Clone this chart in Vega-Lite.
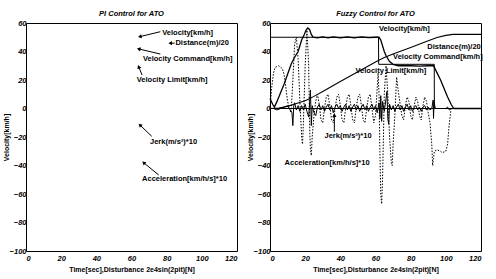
{
  "$schema": "https://vega.github.io/schema/vega-lite/v6.json",
  "padding": {"left": 1, "top": 9, "right": 2, "bottom": 1},
  "background": "white",
  "spacing": 7,
  "config": {
    "view": {"stroke": "black", "strokeWidth": 1},
    "font": "Liberation Sans",
    "axis": {
      "domain": false, "grid": false, "ticks": false,
      "labelFont": "Liberation Sans", "labelFontStyle": "italic", "labelFontWeight": "bold",
      "labelFontSize": 7.5, "labelColor": "black",
      "titleFont": "Liberation Sans", "titleFontWeight": "bold", "titleFontSize": 7, "titleColor": "black"
    },
    "title": {"font": "Liberation Sans", "fontStyle": "italic", "fontWeight": "bold", "fontSize": 7.5, "offset": 2, "color": "black"},
    "text": {"font": "Liberation Sans", "fontWeight": "bold", "fontSize": 7.5, "align": "left", "baseline": "middle", "color": "black"}
  },
  "datasets": {
    "arrowsL": [
      {"x": 76.4, "y": 53.9, "tx": 64.7, "ty": 50.4},
      {"x": 84.5, "y": 45.8, "tx": 82.0, "ty": 45.8},
      {"x": 76.4, "y": 38.2, "tx": 64.1, "ty": 41.8},
      {"x": 66.0, "y": 23.5, "tx": 64.1, "ty": 29.3},
      {"x": 71.5, "y": -19.5, "tx": 64.8, "ty": -11.6},
      {"x": 75.5, "y": -46.7, "tx": 66.9, "ty": -38.0}
    ],
    "labelsL": [
      {"x": 77.5, "y": 53.0, "label": "Velocity[km/h]"},
      {"x": 85.0, "y": 45.7, "label": "Distance(m)/20"},
      {"x": 66.5, "y": 34.5, "label": "Velocity Command[km/h]"},
      {"x": 63.0, "y": 20.0, "label": "Velocity Limit[km/h]"},
      {"x": 70.5, "y": -23.3, "label": "Jerk(m/s³)*10"},
      {"x": 66.0, "y": -49.7, "label": "Acceleration[km/h/s]*10"}
    ],
    "labelsR": [
      {"x": 62.0, "y": 55.5, "label": "Velocity[km/h]"},
      {"x": 89.5, "y": 43.2, "label": "Distance(m)/20"},
      {"x": 70.0, "y": 36.0, "label": "Velocity Command[km/h]"},
      {"x": 48.6, "y": 26.0, "label": "Velocity Limit[km/h]"},
      {"x": 31.0, "y": -19.3, "label": "Jerk(m/s³)*10"},
      {"x": 8.3, "y": -38.5, "label": "Acceleration[km/h/s]*10"}
    ],
    "arrowsR": [
      {"x": 36.6, "y": -16.3, "tx": 36.6, "ty": -4.6}
    ],
    "velocity": [
      {"t": 0, "v": 7}, {"t": 1.5, "v": 3}, {"t": 2.5, "v": 1}, {"t": 4, "v": 5}, {"t": 6, "v": 11},
      {"t": 8, "v": 17}, {"t": 10, "v": 24}, {"t": 12, "v": 31}, {"t": 14, "v": 36}, {"t": 16, "v": 40},
      {"t": 17, "v": 44}, {"t": 18, "v": 48}, {"t": 19.5, "v": 52}, {"t": 20.5, "v": 55}, {"t": 21.5, "v": 56.5},
      {"t": 22.5, "v": 55.5}, {"t": 23.5, "v": 52}, {"t": 24.5, "v": 50}, {"t": 27, "v": 49.5}, {"t": 30, "v": 50.2},
      {"t": 33, "v": 49.5}, {"t": 36, "v": 50.2}, {"t": 40, "v": 49.5}, {"t": 44, "v": 50.2}, {"t": 48, "v": 49.5},
      {"t": 52, "v": 50.2}, {"t": 56, "v": 49.7}, {"t": 60, "v": 50}, {"t": 62, "v": 50}, {"t": 63, "v": 48},
      {"t": 64, "v": 44}, {"t": 65, "v": 40}, {"t": 66, "v": 37}, {"t": 68, "v": 33}, {"t": 70, "v": 31},
      {"t": 73, "v": 30}, {"t": 80, "v": 30}, {"t": 85, "v": 29.8}, {"t": 90, "v": 30}, {"t": 93, "v": 30},
      {"t": 95, "v": 25}, {"t": 97, "v": 20}, {"t": 99, "v": 14}, {"t": 101, "v": 8}, {"t": 103, "v": 3},
      {"t": 104.5, "v": 0}, {"t": 120, "v": 0}
    ],
    "limit": [
      {"t": 0, "v": 50}, {"t": 61.7, "v": 50}, {"t": 61.8, "v": 31}, {"t": 93.4, "v": 31}, {"t": 93.5, "v": 0}
    ],
    "distance": [
      {"t": 0, "v": 0}, {"t": 5, "v": 0.3}, {"t": 10, "v": 1.5}, {"t": 15, "v": 3.5}, {"t": 20, "v": 5.5},
      {"t": 25, "v": 8.5}, {"t": 30, "v": 12}, {"t": 40, "v": 18.9}, {"t": 50, "v": 25.8}, {"t": 60, "v": 32.7},
      {"t": 65, "v": 35.8}, {"t": 70, "v": 38.3}, {"t": 80, "v": 42.8}, {"t": 90, "v": 47.5}, {"t": 95, "v": 49.8},
      {"t": 100, "v": 51.3}, {"t": 104, "v": 52}, {"t": 120, "v": 52}
    ],
    "accel": [
      {"t": 0, "v": 0}, {"t": 1, "v": 15}, {"t": 2, "v": 25}, {"t": 3, "v": 29}, {"t": 5, "v": 30},
      {"t": 7, "v": 28}, {"t": 8, "v": 24}, {"t": 9, "v": 15}, {"t": 10, "v": 5}, {"t": 11, "v": 0},
      {"t": 12, "v": -3}, {"t": 13, "v": 20}, {"t": 14, "v": 45}, {"t": 15, "v": 50}, {"t": 16, "v": 35},
      {"t": 17, "v": 5}, {"t": 18, "v": -20}, {"t": 18.5, "v": -25}, {"t": 19, "v": -10}, {"t": 20, "v": 30},
      {"t": 21, "v": 55}, {"t": 22, "v": 30}, {"t": 22.5, "v": -10}, {"t": 23, "v": -30}, {"t": 23.5, "v": -33},
      {"t": 24, "v": -20}, {"t": 25, "v": -5}, {"t": 26, "v": 5}, {"t": 27, "v": 10}, {"t": 28, "v": 3},
      {"t": 29, "v": -8}, {"t": 30, "v": -10}, {"t": 31, "v": 0}, {"t": 32, "v": 8}, {"t": 33, "v": 10},
      {"t": 34, "v": 2}, {"t": 35, "v": -8}, {"t": 36, "v": -10}, {"t": 37, "v": 0}, {"t": 38, "v": 8},
      {"t": 39, "v": 10}, {"t": 40, "v": 2}, {"t": 41, "v": -8}, {"t": 42, "v": -10}, {"t": 43, "v": 0},
      {"t": 44, "v": 8}, {"t": 45, "v": 10}, {"t": 46, "v": 2}, {"t": 47, "v": -8}, {"t": 48, "v": -10},
      {"t": 49, "v": 0}, {"t": 50, "v": 8}, {"t": 51, "v": 10}, {"t": 52, "v": 2}, {"t": 53, "v": -8},
      {"t": 54, "v": -10}, {"t": 55, "v": 0}, {"t": 56, "v": 8}, {"t": 57, "v": 10}, {"t": 58, "v": 0},
      {"t": 59, "v": -10}, {"t": 60, "v": -5}, {"t": 61, "v": 15}, {"t": 61.5, "v": 25}, {"t": 62, "v": 10},
      {"t": 62.5, "v": -30}, {"t": 63, "v": -60}, {"t": 63.5, "v": -67}, {"t": 64, "v": -50}, {"t": 64.5, "v": -20},
      {"t": 65, "v": 10}, {"t": 66, "v": 30}, {"t": 67, "v": 10}, {"t": 68, "v": -20}, {"t": 69, "v": -38},
      {"t": 69.5, "v": -40}, {"t": 70, "v": -25}, {"t": 71, "v": -5}, {"t": 72, "v": 22}, {"t": 73, "v": 12},
      {"t": 74, "v": 3}, {"t": 75, "v": -5}, {"t": 76, "v": -8}, {"t": 77, "v": 2}, {"t": 78, "v": 8},
      {"t": 79, "v": 5}, {"t": 80, "v": -5}, {"t": 81, "v": -8}, {"t": 82, "v": 2}, {"t": 83, "v": 8},
      {"t": 84, "v": 5}, {"t": 85, "v": -5}, {"t": 86, "v": -8}, {"t": 87, "v": 2}, {"t": 88, "v": 8},
      {"t": 89, "v": 5}, {"t": 90, "v": -3}, {"t": 91, "v": -10}, {"t": 92, "v": -25}, {"t": 92.5, "v": -40},
      {"t": 93, "v": -35}, {"t": 93.5, "v": -30}, {"t": 95, "v": -29}, {"t": 97, "v": -30}, {"t": 98, "v": -31},
      {"t": 100, "v": -30}, {"t": 101, "v": -25}, {"t": 102, "v": -10}, {"t": 103, "v": 0}, {"t": 120, "v": 0}
    ],
    "jerk": [
      {"t": 0, "v": 0}, {"t": 2, "v": 0}, {"t": 4, "v": -1}, {"t": 6, "v": 0}, {"t": 8, "v": 1},
      {"t": 10, "v": 2}, {"t": 11, "v": 0}, {"t": 12.5, "v": -3}, {"t": 13, "v": -12}, {"t": 13.5, "v": 2},
      {"t": 14, "v": 4}, {"t": 15, "v": -1}, {"t": 16, "v": 2}, {"t": 17, "v": -2}, {"t": 18, "v": 2},
      {"t": 19, "v": -1}, {"t": 20, "v": 3}, {"t": 21, "v": -2}, {"t": 22, "v": -6}, {"t": 23, "v": 13},
      {"t": 23.5, "v": -12}, {"t": 24, "v": 2}, {"t": 25, "v": -3}, {"t": 26, "v": -5}, {"t": 27, "v": 1},
      {"t": 28, "v": 3}, {"t": 29, "v": -1}, {"t": 30, "v": 2}, {"t": 31, "v": -2}, {"t": 32, "v": 1},
      {"t": 33, "v": 3}, {"t": 34, "v": -1}, {"t": 35, "v": 2}, {"t": 36, "v": -3}, {"t": 37, "v": 1},
      {"t": 38, "v": 3}, {"t": 39, "v": 0}, {"t": 40, "v": 2}, {"t": 41, "v": -2}, {"t": 42, "v": 1},
      {"t": 43, "v": 3}, {"t": 44, "v": -1}, {"t": 45, "v": 2}, {"t": 46, "v": -2}, {"t": 47, "v": 1},
      {"t": 48, "v": 3}, {"t": 49, "v": -1}, {"t": 50, "v": 2}, {"t": 51, "v": -2}, {"t": 52, "v": 1},
      {"t": 53, "v": 3}, {"t": 54, "v": -1}, {"t": 55, "v": 2}, {"t": 56, "v": -2}, {"t": 57, "v": 1},
      {"t": 58, "v": 3}, {"t": 59, "v": -1}, {"t": 60, "v": 2}, {"t": 61, "v": -3}, {"t": 62, "v": 4},
      {"t": 62.5, "v": -7}, {"t": 63, "v": 9}, {"t": 63.5, "v": -9}, {"t": 64, "v": 5}, {"t": 65, "v": -2},
      {"t": 66, "v": 7}, {"t": 66.5, "v": 12}, {"t": 67, "v": -7}, {"t": 67.5, "v": -11}, {"t": 68, "v": 3},
      {"t": 69, "v": -1}, {"t": 70, "v": 2}, {"t": 71, "v": -2}, {"t": 72, "v": 1}, {"t": 73, "v": 3},
      {"t": 74, "v": -1}, {"t": 75, "v": 2}, {"t": 76, "v": -2}, {"t": 77, "v": 1}, {"t": 78, "v": 3},
      {"t": 79, "v": -1}, {"t": 80, "v": 2}, {"t": 81, "v": -2}, {"t": 82, "v": 1}, {"t": 83, "v": 2},
      {"t": 84, "v": -1}, {"t": 85, "v": 1}, {"t": 86, "v": -2}, {"t": 87, "v": 1}, {"t": 88, "v": 2},
      {"t": 89, "v": -1}, {"t": 90, "v": 1}, {"t": 91, "v": -1}, {"t": 92, "v": 0}, {"t": 92.8, "v": 6},
      {"t": 93, "v": -7}, {"t": 93.3, "v": 5}, {"t": 94, "v": 0}, {"t": 100, "v": 0}, {"t": 101, "v": 1},
      {"t": 102, "v": -1}, {"t": 103, "v": 0}, {"t": 120, "v": 0}
    ]
  },
  "hconcat": [
    {
      "width": 211, "height": 228,
      "title": "PI Control for ATO",
      "encoding": {
        "x": {"type": "quantitative", "scale": {"domain": [0, 120], "nice": false},
              "axis": {"values": [0, 20, 40, 60, 80, 100, 120], "title": "Time[sec],Disturbance 2e4sin(2pit)[N]", "labelPadding": 3, "titlePadding": 4}},
        "y": {"type": "quantitative", "scale": {"domain": [-100, 60], "nice": false},
              "axis": {"values": [-100, -80, -60, -40, -20, 0, 20, 40, 60], "title": "Velocity[km/h]", "labelPadding": 0, "titlePadding": 0}}
      },
      "layer": [
        {
          "data": {"name": "arrowsL"},
          "mark": {"type": "rule", "color": "black", "strokeWidth": 1},
          "encoding": {"x": {"field": "x"}, "y": {"field": "y"}, "x2": {"field": "tx"}, "y2": {"field": "ty"}}
        },
        {
          "data": {"name": "arrowsL"},
          "transform": [{"calculate": "atan2((datum.tx - datum.x) * 1.758, (datum.ty - datum.y) * 1.425) * 180 / PI", "as": "ang"}],
          "mark": {"type": "point", "shape": "triangle-up", "filled": true, "color": "black", "size": 18, "opacity": 1},
          "encoding": {"x": {"field": "tx"}, "y": {"field": "ty"}, "angle": {"field": "ang", "type": "quantitative", "scale": null}}
        },
        {
          "data": {"name": "labelsL"},
          "mark": {"type": "text"},
          "encoding": {"x": {"field": "x"}, "y": {"field": "y"}, "text": {"field": "label"}}
        }
      ]
    },
    {
      "width": 211, "height": 228,
      "title": "Fuzzy Control for ATO",
      "encoding": {
        "x": {"type": "quantitative", "scale": {"domain": [0, 120], "nice": false},
              "axis": {"values": [0, 20, 40, 60, 80, 100, 120], "title": "Time[sec],Disturbance 2e4sin(2pit)[N]", "labelPadding": 3, "titlePadding": 4}},
        "y": {"type": "quantitative", "scale": {"domain": [-100, 60], "nice": false},
              "axis": {"values": [-100, -80, -60, -40, -20, 0, 20, 40, 60], "title": "Velocity[km/h]", "labelPadding": 0, "titlePadding": 0}}
      },
      "layer": [
        {
          "data": {"values": [{"a": 0, "b": 120, "z": 0}]},
          "mark": {"type": "rule", "color": "black", "strokeWidth": 1},
          "encoding": {"x": {"field": "a"}, "x2": {"field": "b"}, "y": {"field": "z"}}
        },
        {
          "data": {"name": "accel"},
          "mark": {"type": "line", "color": "black", "strokeWidth": 1, "strokeDash": [1.5, 1.5]},
          "encoding": {"x": {"field": "t"}, "y": {"field": "v"}}
        },
        {
          "data": {"name": "jerk"},
          "mark": {"type": "line", "color": "black", "strokeWidth": 1},
          "encoding": {"x": {"field": "t"}, "y": {"field": "v"}}
        },
        {
          "data": {"name": "limit"},
          "mark": {"type": "line", "color": "black", "strokeWidth": 1},
          "encoding": {"x": {"field": "t"}, "y": {"field": "v"}}
        },
        {
          "data": {"name": "distance"},
          "mark": {"type": "line", "color": "black", "strokeWidth": 1.1},
          "encoding": {"x": {"field": "t"}, "y": {"field": "v"}}
        },
        {
          "data": {"name": "velocity"},
          "mark": {"type": "line", "color": "black", "strokeWidth": 1.3},
          "encoding": {"x": {"field": "t"}, "y": {"field": "v"}}
        },
        {
          "data": {"name": "arrowsR"},
          "mark": {"type": "rule", "color": "black", "strokeWidth": 1},
          "encoding": {"x": {"field": "x"}, "y": {"field": "y"}, "x2": {"field": "tx"}, "y2": {"field": "ty"}}
        },
        {
          "data": {"name": "arrowsR"},
          "transform": [{"calculate": "atan2((datum.tx - datum.x) * 1.758, (datum.ty - datum.y) * 1.425) * 180 / PI", "as": "ang"}],
          "mark": {"type": "point", "shape": "triangle-up", "filled": true, "color": "black", "size": 18, "opacity": 1},
          "encoding": {"x": {"field": "tx"}, "y": {"field": "ty"}, "angle": {"field": "ang", "type": "quantitative", "scale": null}}
        },
        {
          "data": {"name": "labelsR"},
          "mark": {"type": "text"},
          "encoding": {"x": {"field": "x"}, "y": {"field": "y"}, "text": {"field": "label"}}
        }
      ]
    }
  ]
}
